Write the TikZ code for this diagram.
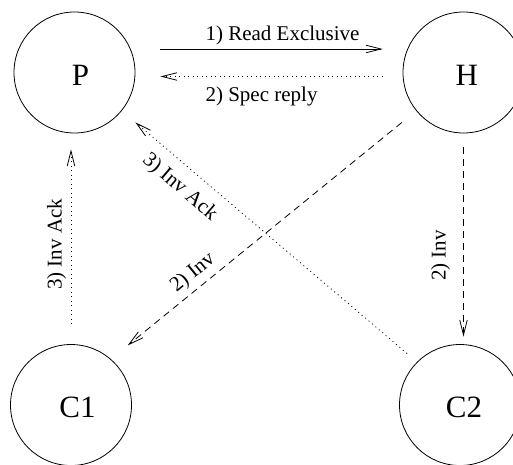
\documentclass[tikz,border=0pt]{standalone}
\usepackage{fontspec}
\setmainfont{Liberation Serif}
\usetikzlibrary{arrows.meta}
\begin{document}
\begin{tikzpicture}[x=1pt,y=-1pt,
  state/.style={circle,draw,line width=0.8pt,minimum size=121pt,inner sep=0pt},
  statelabel/.style={font=\fontsize{31}{31}\selectfont,inner sep=0pt},
  conn/.style={line width=0.8pt,-{Straight Barb[length=15pt,width=7.5pt,line width=0.8pt]}},
  dotline/.style={conn,dash pattern=on 1pt off 3.5pt},
  dashline/.style={conn,dash pattern=on 7pt off 5pt},
  lbl/.style={font=\fontsize{21}{21}\selectfont,inner sep=0pt}]
\useasboundingbox (0,0) rectangle (513,464);
\clip (0,0) rectangle (513,464);
\node[state,label={[statelabel,name=Plbl,xshift=6pt,yshift=-3.3pt]center:P}] (P) at (74.5,72.5) {};
\node[state,label={[statelabel,name=Hlbl,xshift=3.3pt,yshift=-2.5pt]center:H}] (H) at (463.5,72.5) {};
\node[state,label={[statelabel,name=C1lbl,xshift=6.5pt,yshift=-2pt]center:C1}] (C1) at (71,405) {};
\node[state,label={[statelabel,name=C2lbl,xshift=4pt,yshift=-2pt]center:C2}] (C2) at (460,405) {};
\draw[conn,shorten <=25pt,shorten >=20pt] ([yshift=23.5pt]P.east) -- ([yshift=23.5pt]H.west)
  node[lbl,pos=0.261,anchor=base west,yshift=8.3pt] (l1) {1) Read Exclusive};
\draw[dotline,shorten <=20pt,shorten >=25pt] ([yshift=-4pt]H.west) -- ([yshift=-4pt]P.east)
  node[lbl,pos=0.739,anchor=base west,yshift=-25.2pt] (l2) {2) Spec reply};
\draw[dotline,shorten <=20pt,shorten >=16pt] (C1.north) -- (C1.north |- P.south)
  node[lbl,pos=0.473,sloped,anchor=base,yshift=9.5pt] (l3) {3) Inv Ack};
\draw[dashline,shorten <=14pt,shorten >=7.5pt] (H.south) -- (H.south |- C2.north)
  node[lbl,pos=0.579,rotate=90,anchor=base,yshift=18pt] (l4) {2) Inv};
\draw[dashline,shorten <=18.5pt,shorten >=21.7pt] (H.219) -- (C1.49)
  node[lbl,pos=0.70,sloped,anchor=base,yshift=10pt] (l5) {2) Inv};
\draw[dotline,shorten <=13pt,shorten >=17.7pt] (C2.135) -- (P.321)
  node[lbl,pos=0.758,sloped,anchor=base,yshift=-26pt] (l6) {3) Inv Ack};
\end{tikzpicture}
\end{document}
